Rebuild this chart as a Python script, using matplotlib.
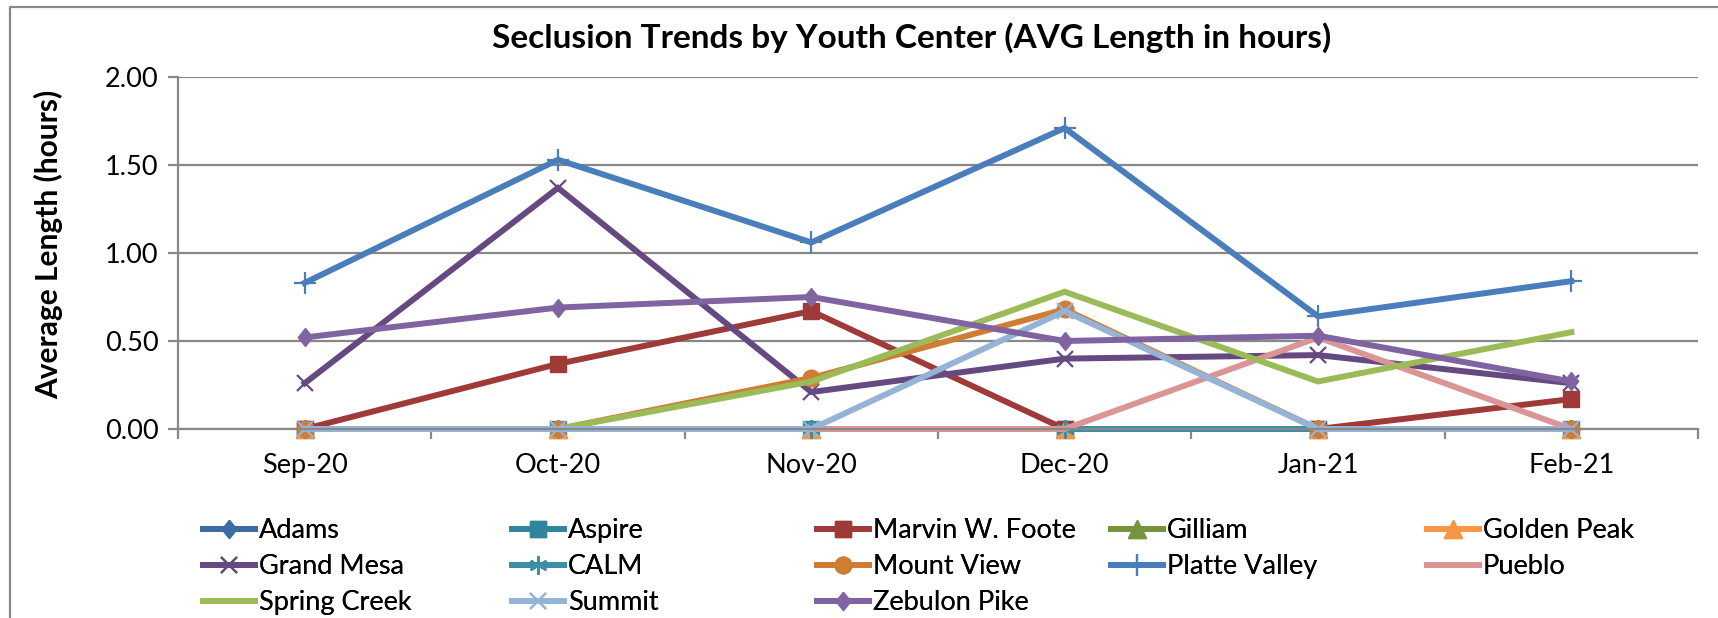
import matplotlib
matplotlib.use("Agg")
import matplotlib.pyplot as plt
from matplotlib.lines import Line2D

plt.rcParams['font.family'] = ['Lato', 'DejaVu Sans']

# data
meses = ['Sep-20', 'Oct-20', 'Nov-20', 'Dec-20', 'Jan-21', 'Feb-21']
centros = ['Adams', 'Aspire', 'Marvin W. Foote', 'Gilliam', 'Golden Peak',
           'Grand Mesa', 'CALM', 'Mount View', 'Platte Valley', 'Pueblo',
           'Spring Creek', 'Summit', 'Zebulon Pike']

adams = [0, 0, 0, 0, 0, 0]
aspire = [0, 0, 0, 0, 0, 0]
marvin = [0, 0.37, 0.67, 0, 0, 0.17]
gilliam = [0, 0, 0, 0, 0, 0]
golden_peak = [0, 0, 0, 0, 0, 0]
grand_mesa = [0.26, 1.37, 0.21, 0.40, 0.42, 0.26]
calm = [0, 0, 0, 0, 0, 0]
mount_view = [0, 0, 0.29, 0.68, 0, 0]
platte = [0.83, 1.53, 1.06, 1.71, 0.64, 0.84]
pueblo = [0, 0, 0, 0, 0.52, 0]
spring_creek = [0, 0, 0.27, 0.78, 0.27, 0.55]
summit = [0, 0, 0, 0.67, 0, 0]
zebulon = [0.52, 0.69, 0.75, 0.50, 0.53, 0.27]

series = [adams, aspire, marvin, gilliam, golden_peak, grand_mesa, calm,
          mount_view, platte, pueblo, spring_creek, summit, zebulon]

losango = [(0, 1), (0.8, 0), (0, -1), (-0.8, 0), (0, 1)]
estilos = [
    ('#3E6BA4', losango, 13, 1),
    ('#31859C', 's', 12, 1),
    ('#9E3B38', 's', 12, 1),
    ('#77933C', '^', 13, 1),
    ('#F79646', '^', 13, 1),
    ('#654A82', 'x', 12, 1.6),
    ('#3B8EA5', (6, 2, 0), 13, 1.6),
    ('#D07C33', 'o', 12, 1),
    ('#4A7EBB', '+', 16, 1.6),
    ('#D99694', None, 0, 1),
    ('#9BBB59', None, 0, 1),
    ('#95B3D7', 'x', 12, 1.6),
    ('#8064A2', losango, 13, 1),
]

W, H = 1718, 618
fig = plt.figure(figsize=(W / 100, H / 100), dpi=100)
ax = fig.add_axes([178 / W, 1 - 429 / H, (1698 - 178) / W, (429 - 77) / H])

x = list(range(len(meses)))
handles = []
for nome, vals, (cor, mk, ms, mew) in zip(centros, series, estilos):
    h, = ax.plot(x, vals, color=cor, lw=4.3, marker=mk, markersize=ms,
                 markeredgewidth=mew, markerfacecolor=cor, markeredgecolor=cor,
                 label=nome, clip_on=False, solid_joinstyle='miter')
    handles.append(h)

ax.set_xlim(-0.5, len(meses) - 0.5)
ax.set_ylim(0, 2)
ax.set_yticks([0, 0.5, 1.0, 1.5, 2.0])
ax.set_yticklabels(['0.00', '0.50', '1.00', '1.50', '2.00'])
ax.set_xticks([i - 0.5 for i in range(len(meses) + 1)])
ax.set_xticklabels([])
ax.set_xticks(x, minor=True)
ax.set_xticklabels(meses, minor=True)

grid_cor = '#888888'
ax.yaxis.grid(True, color=grid_cor, lw=1.6)
ax.set_axisbelow(True)
for s in ['top', 'right']:
    ax.spines[s].set_visible(False)
for s in ['left', 'bottom']:
    ax.spines[s].set_color(grid_cor)
    ax.spines[s].set_linewidth(1.6)
ax.tick_params(axis='y', length=7, width=1.6, color=grid_cor, labelsize=19.5, pad=7)
ax.tick_params(axis='x', which='major', length=7, width=1.6, color=grid_cor)
ax.tick_params(axis='x', which='minor', length=0, labelsize=19.5, pad=17)

fig.text(912 / W, 1 - 38 / H, 'Seclusion Trends by Youth Center (AVG Length in hours)',
         ha='center', va='center', fontsize=24, fontweight='bold')
fig.text(49 / W, 1 - 244 / H, 'Average Length (hours)', rotation=90,
         ha='center', va='center', fontsize=21.5, fontweight='bold')

# legend: 5 fixed-width columns like Excel
colunas_x = [203, 512, 817, 1111, 1427]
for c, cx in enumerate(colunas_x):
    hs = handles[c::5]
    leg = fig.legend(handles=hs, labels=[h.get_label() for h in hs],
                     loc='upper left', bbox_to_anchor=(cx / W, 1 - 518 / H),
                     frameon=False, fontsize=19.5, handlelength=1.92,
                     handletextpad=0.14, borderpad=0, borderaxespad=0,
                     labelspacing=0.41)
    fig.add_artist(leg)

# chart area border
fig.add_artist(Line2D([10 / W, 10 / W, 1.0], [0, 1 - 7 / H, 1 - 7 / H],
                      transform=fig.transFigure, color=grid_cor, lw=1.6))

fig.savefig('out.png', dpi=100)
